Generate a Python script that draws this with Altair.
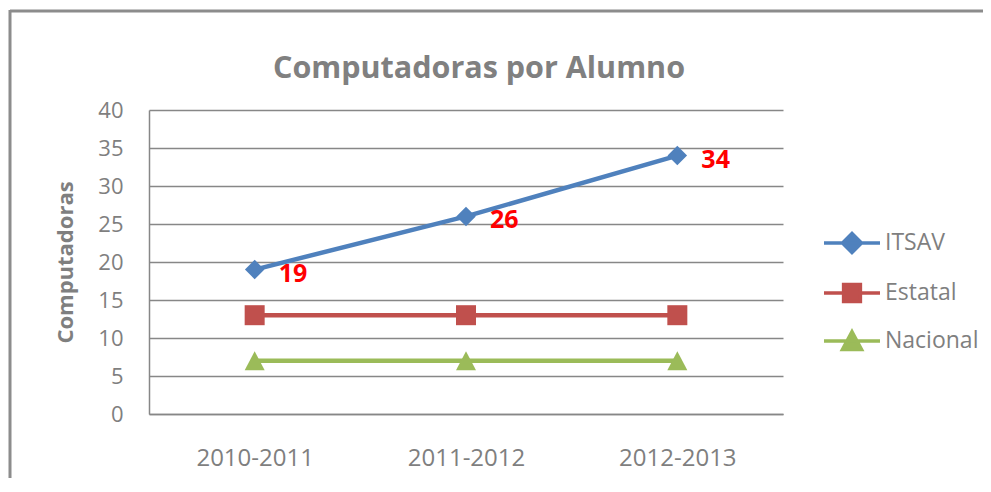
import altair as alt
import pandas as pd

# ---- data ----
periods = ["2010-2011", "2011-2012", "2012-2013"]
series_names = ["ITSAV", "Estatal", "Nacional"]
itsav = [19, 26, 34]
estatal = [13, 13, 13]
nacional = [7, 7, 7]
y_ticks = [0, 5, 10, 15, 20, 25, 30, 35, 40]

colors = ["#4F81BD", "#C0504D", "#9BBB59"]
# legend symbols: a line with the series marker in the middle
legend_paths = [
    "M-1,0H1M0,-0.34L0.34,0L0,0.34L-0.34,0Z",
    "M-1,0H1M-0.3,-0.3H0.3V0.3H-0.3Z",
    "M-1,0H1M0,-0.33L0.34,0.3L-0.34,0.3Z",
]
legend_y = [103, 153, 201]

rows = []
for name, vals in zip(series_names, [itsav, estatal, nacional]):
    for p, v in zip(periods, vals):
        rows.append({"period": p, "series": name, "value": v})
df = pd.DataFrame(rows)

FONT = "Open Sans"
GRAY = "#7F7F7F"
LINE_GRAY = "#878787"

x_enc = alt.X(
    "period:N",
    sort=periods,
    scale=alt.Scale(type="point", padding=0.5),
    axis=alt.Axis(
        title=None, labelAngle=0, ticks=False, domain=True,
        domainColor=LINE_GRAY, domainWidth=1.5,
        labelFontSize=24, labelColor=GRAY, labelFont=FONT, labelPadding=32,
    ),
)
y_enc = alt.Y(
    "value:Q",
    scale=alt.Scale(domain=[0, 40], nice=False),
    axis=alt.Axis(
        title="Computadoras", values=y_ticks, ticks=False,
        domain=True, domainColor=LINE_GRAY, domainWidth=1.5,
        grid=True, gridColor=LINE_GRAY, gridWidth=1.5,
        labelFontSize=22, labelColor=GRAY, labelFont=FONT, labelPadding=26,
        titleFontSize=22, titleFontWeight="bold", titleColor=GRAY,
        titleFont=FONT, titlePadding=20,
    ),
)

base = alt.Chart(df)

line_layers = []
for name, col, path, ly in zip(series_names, colors, legend_paths, legend_y):
    line_layers.append(
        base.transform_filter(alt.datum.series == name)
        .mark_line(strokeWidth=4.5)
        .encode(
            x=x_enc, y=y_enc,
            color=alt.Color(
                "series:N",
                scale=alt.Scale(domain=[name], range=[col]),
                legend=alt.Legend(
                    title=None, orient="none", legendX=673, legendY=ly,
                    symbolType=path, symbolSize=3136, symbolStrokeWidth=3.5,
                    symbolFillColor=col, symbolStrokeColor=col, symbolOpacity=1,
                    labelFontSize=23, labelColor=GRAY, labelFont=FONT,
                    labelOffset=3,
                ),
            ),
        )
    )

shapes = {"ITSAV": "diamond", "Estatal": "square",
          "Nacional": "M0,-0.95L1,0.95L-1,0.95Z"}
sizes = {"ITSAV": 380, "Estatal": 400, "Nacional": 400}
point_layers = []
for name, col in zip(series_names, colors):
    point_layers.append(
        base.transform_filter(alt.datum.series == name)
        .mark_point(filled=True, shape=shapes[name], size=sizes[name],
                    opacity=1, strokeWidth=0, color=col)
        .encode(x=x_enc, y=y_enc)
    )

labels = base.transform_filter(alt.datum.series == "ITSAV").mark_text(
    align="left", baseline="middle", dx=24, dy=4,
    fontSize=25, fontWeight="bold", color="#FF0000", font=FONT,
).encode(x=x_enc, y=y_enc, text="value:Q")

frame_top = alt.Chart(pd.DataFrame({"a": [0]})).mark_rule(
    color="#8C8C8C", strokeWidth=3
).encode(x=alt.value(-139), x2=alt.value(900), y=alt.value(-99))
frame_left = alt.Chart(pd.DataFrame({"a": [0]})).mark_rule(
    color="#8C8C8C", strokeWidth=3
).encode(x=alt.value(-139), y=alt.value(-100), y2=alt.value(400))

chart = alt.layer(
    frame_top, frame_left, *line_layers, *point_layers, labels
).resolve_scale(color="independent").properties(
    width=634, height=304,
    title=alt.TitleParams(
        "Computadoras por Alumno", fontSize=30.5, fontWeight="bold", color="#808080",
        font=FONT, anchor="middle", frame="group", dx=13, offset=-100,
        baseline="alphabetic",
    ),
    padding={"left": 141, "top": 102, "right": 200, "bottom": 64},
    autosize=alt.AutoSizeParams(type="none"),
).configure_view(stroke=None)

chart.save("out.html", embed_options={"renderer": "svg", "actions": False})
